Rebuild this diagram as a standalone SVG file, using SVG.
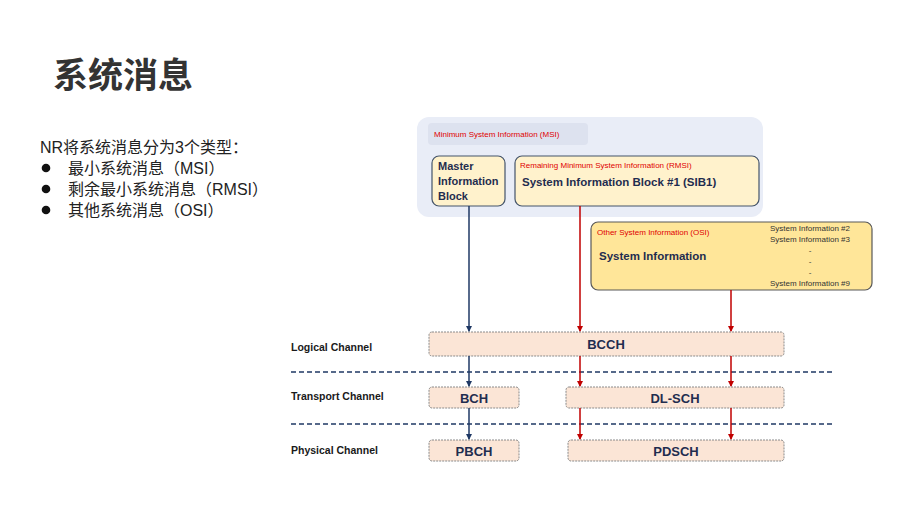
<svg xmlns="http://www.w3.org/2000/svg" width="920" height="517" viewBox="0 0 920 517">
<defs>
<style>
.t{font-family:"Liberation Sans","Noto Sans CJK SC",Arial,sans-serif;}
.cn{font-family:"Noto Sans CJK SC","Liberation Sans",sans-serif;}
.red{fill:#e00000;font-size:8px;}
.b{font-weight:bold;fill:#1f2d4f;}
.nb{fill:#fff2cc;stroke:#44546a;stroke-width:1.2;}
.ch{fill:#fbe5d6;stroke:#8a8a8a;stroke-width:1;stroke-dasharray:2 1;}
.chl{font-weight:bold;font-size:10.5px;fill:#1a1a1a;}
.cht{font-weight:bold;font-size:13px;fill:#1f2d4f;text-anchor:middle;}
.sm{font-size:8px;fill:#333;text-anchor:middle;}
.nv{stroke:#1f3864;stroke-width:1.5;fill:none;}
.rd{stroke:#c00000;stroke-width:1.5;fill:none;}
.dl{stroke:#1f3864;stroke-width:1.3;stroke-dasharray:5 3;fill:none;}
</style>
<marker id="an" markerWidth="6" markerHeight="6" refX="5" refY="3" orient="auto" markerUnits="userSpaceOnUse"><path d="M0,0 L6,3 L0,6 Z" fill="#1f3864"/></marker>
<marker id="ar" markerWidth="6" markerHeight="6" refX="5" refY="3" orient="auto" markerUnits="userSpaceOnUse"><path d="M0,0 L6,3 L0,6 Z" fill="#c00000"/></marker>
</defs>
<rect width="920" height="517" fill="#ffffff"/>
<text class="cn" x="53" y="88" font-size="35" font-weight="bold" fill="#333333">系统消息</text>
<g id="intro" class="t" font-size="16" fill="#222">
<text x="40" y="153">NR将系统消息分为3个类型：</text>
<circle cx="46" cy="168" r="4.3" fill="#111"/>
<text x="68" y="174">最小系统消息（MSI）</text>
<circle cx="46" cy="189" r="4.3" fill="#111"/>
<text x="68" y="195">剩余最小系统消息（RMSI）</text>
<circle cx="46" cy="210" r="4.3" fill="#111"/>
<text x="68" y="216">其他系统消息（OSI）</text>
</g>
<g id="msi">
<rect x="417" y="117" width="346" height="100" rx="12" fill="#e9edf7"/>
<rect x="428" y="123" width="160" height="22" rx="4" fill="#dde2ef"/>
<text class="t red" x="434" y="137">Minimum System Information (MSI)</text>
</g>
<g id="mib">
<rect class="nb" x="432" y="156" width="73" height="50" rx="7"/>
<text class="t b" font-size="11" x="438" y="170">Master</text>
<text class="t b" font-size="11" x="438" y="185">Information</text>
<text class="t b" font-size="11" x="438" y="200">Block</text>
</g>
<g id="rmsi">
<rect class="nb" x="515" y="156" width="244" height="50" rx="7"/>
<text class="t red" x="520" y="168">Remaining Minimum System Information (RMSI)</text>
<text class="t b" font-size="11.5" x="522" y="186">System Information Block #1 (SIB1)</text>
</g>
<g id="osi">
<rect x="591" y="222" width="281" height="68" rx="7" fill="#ffe699" stroke="#595959" stroke-width="1.2"/>
<text class="t red" x="597" y="235">Other System Information (OSI)</text>
<text class="t b" font-size="11.5" x="599" y="260">System Information</text>
<text class="t sm" x="810" y="231">System Information #2</text>
<text class="t sm" x="810" y="242">System Information #3</text>
<text class="t sm" x="810" y="253">-</text>
<text class="t sm" x="810" y="264">-</text>
<text class="t sm" x="810" y="275">-</text>
<text class="t sm" x="810" y="286">System Information #9</text>
</g>
<g id="labels" class="t">
<text class="chl" x="291" y="351">Logical Channel</text>
<text class="chl" x="291" y="400">Transport Channel</text>
<text class="chl" x="291" y="454">Physical Channel</text>
</g>
<g id="bcch"><rect class="ch" x="429" y="332" width="355" height="24" rx="3"/><text class="t cht" x="606" y="349">BCCH</text></g>
<g id="bch"><rect class="ch" x="429" y="387" width="90" height="21" rx="3"/><text class="t cht" x="474" y="403">BCH</text></g>
<g id="dlsch"><rect class="ch" x="566" y="387" width="218" height="21" rx="3"/><text class="t cht" x="675" y="403">DL-SCH</text></g>
<g id="pbch"><rect class="ch" x="429" y="440" width="90" height="21" rx="3"/><text class="t cht" x="474" y="456">PBCH</text></g>
<g id="pdsch"><rect class="ch" x="568" y="440" width="216" height="21" rx="3"/><text class="t cht" x="676" y="456">PDSCH</text></g>
<g id="connectors">
<line class="dl" x1="291" y1="372" x2="834" y2="372"/>
<line class="dl" x1="291" y1="424" x2="834" y2="424"/>
<line class="nv" x1="469" y1="206" x2="469" y2="331" marker-end="url(#an)"/>
<line class="rd" x1="580" y1="206" x2="580" y2="331" marker-end="url(#ar)"/>
<line class="rd" x1="731" y1="290" x2="731" y2="331" marker-end="url(#ar)"/>
<line class="nv" x1="469" y1="356" x2="469" y2="386" marker-end="url(#an)"/>
<line class="rd" x1="580" y1="356" x2="580" y2="386" marker-end="url(#ar)"/>
<line class="rd" x1="731" y1="356" x2="731" y2="386" marker-end="url(#ar)"/>
<line class="nv" x1="469" y1="408" x2="469" y2="439" marker-end="url(#an)"/>
<line class="rd" x1="580" y1="408" x2="580" y2="439" marker-end="url(#ar)"/>
<line class="rd" x1="731" y1="408" x2="731" y2="439" marker-end="url(#ar)"/>
</g>
</svg>
